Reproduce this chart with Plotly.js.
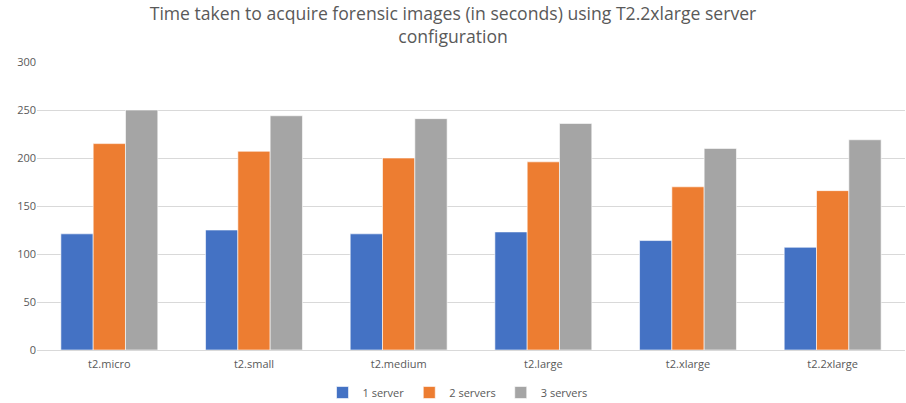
<!DOCTYPE html>
<html>
<head>
<meta charset="utf-8">
<script src="https://cdn.plot.ly/plotly-3.0.1.min.js"></script>
<style>html,body{margin:0;padding:0;background:#fff;}#chart{width:906px;height:403px;}</style>
</head>
<body>
<div id="chart"></div>
<script>
const categories = ["t2.micro", "t2.small", "t2.medium", "t2.large", "t2.xlarge", "t2.2xlarge"];
const seriesNames = ["1 server", "2 servers", "3 servers"];
const oneServer = [121, 125, 121, 123, 114, 107];
const twoServers = [215, 207, 200, 196, 170, 166];
const threeServers = [250, 244, 241, 236, 210, 219];
const yTicks = [0, 50, 100, 150, 200, 250, 300];
const colors = ["#4472C4", "#ED7D31", "#A5A5A5"];

const values = [oneServer, twoServers, threeServers];
const traces = values.map((v, i) => ({
  type: "bar",
  name: seriesNames[i],
  x: categories,
  y: v,
  marker: {color: colors[i], line: {color: "#ffffff", width: 0.6}},
  hoverinfo: "x+y+name"
}));

const font = "'Open Sans', 'Liberation Sans', sans-serif";
const layout = {
  width: 906, height: 403,
  margin: {l: 37, r: 1, t: 62, b: 53},
  paper_bgcolor: "#fff", plot_bgcolor: "#fff",
  font: {family: font, color: "#595959", size: 11},
  title: {
    text: "Time taken to acquire forensic images (in seconds) using T2.2xlarge server<br>configuration",
    font: {family: font, size: 17.6, color: "#595959"},
    x: 0.5, xanchor: "center", xref: "container",
    yref: "container", y: 0.95, yanchor: "middle"
  },
  barmode: "group",
  bargap: 0.33,
  bargroupgap: 0,
  xaxis: {
    type: "category",
    showgrid: false,
    showline: true, linecolor: "#D9D9D9", linewidth: 1,
    ticks: "outside", ticklen: 4, tickcolor: "rgba(0,0,0,0)",
    tickfont: {size: 11, color: "#595959"},
    fixedrange: true, automargin: false
  },
  yaxis: {
    range: [0, 300],
    tickvals: yTicks,
    showgrid: true, gridcolor: "#D9D9D9", gridwidth: 1,
    zeroline: false, showline: false,
    ticks: "", ticklen: 0,
    tickfont: {size: 11, color: "#595959"},
    fixedrange: true, automargin: false
  },
  legend: {
    orientation: "h", x: 0.505, xanchor: "center", xref: "container",
    yref: "container", y: 0.026, yanchor: "middle",
    font: {size: 11, color: "#595959"},
    itemwidth: 30, traceorder: "normal"
  },
  showlegend: true
};

Plotly.newPlot("chart", traces, layout, {displayModeBar: false});
</script>
</body>
</html>
